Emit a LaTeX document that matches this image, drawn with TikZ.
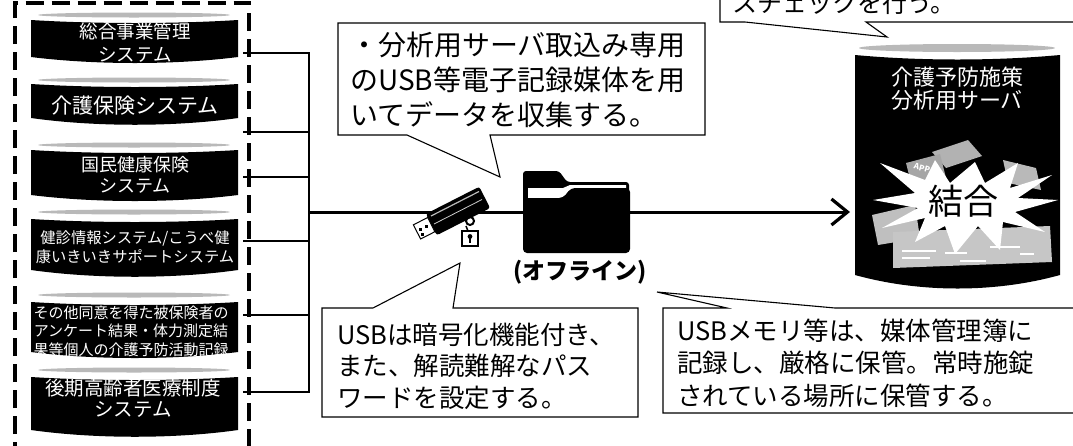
\documentclass[tikz,border=0pt]{standalone}
\usepackage{fontspec}
\setmainfont{Noto Sans CJK JP}
\usetikzlibrary{arrows.meta}

% database barrel: top ellipse y, body top y, body bottom y, bottom bulge
\newcommand\dbbarrel[4]{%
  \fill[gray!55] (134,#1) ellipse [x radius=96, y radius=2.5];
  \fill[black] (31,#2) .. controls (95,#2+4) and (175,#2+4) .. (238,#2)
    -- (238,#3) .. controls (175,#3+#4) and (95,#3+#4) .. (31,#3) -- cycle;
}

\begin{document}
\begin{tikzpicture}[x=1pt,y=-1pt,
  cyltext/.style={text=white, align=center, inner sep=0pt},
  balloon/.style={draw=black, fill=white, line width=1.1pt, line join=miter},
  btext/.style={align=left, inner sep=0pt, anchor=west},
  feed/.style={line width=2.3pt},
  trunk/.style={line width=2.6pt, line join=miter},
  dashedframe/.style={line width=4pt, dash pattern=on 18pt off 8pt},
]
\useasboundingbox (0,0) rectangle (1073,445);
\begin{scope}
\clip (0,0) rectangle (1073,445);

% ---------- source systems ----------
\draw[dashedframe] (15,460) -- (15,2.5) -- (249,2.5) -- (249,460);

\dbbarrel{15}{20}{57}{8}
\dbbarrel{80}{84}{118}{9}
\dbbarrel{145}{150}{195}{8}
\dbbarrel{212}{219}{270}{9}
\dbbarrel{295}{302}{352}{8}
\dbbarrel{370}{377}{430}{9}

\node[cyltext, font=\fontsize{18.5pt}{23pt}\selectfont] (sys1) at (135,43) {総合事業管理\\システム};
\node[cyltext, font=\fontsize{21pt}{24pt}\selectfont] (sys2) at (135,106) {介護保険システム};
\node[cyltext, font=\fontsize{18pt}{20.5pt}\selectfont] (sys3) at (135,175) {国民健康保険\\システム};
\node[cyltext, font=\fontsize{15.3pt}{19pt}\selectfont] (sys4) at (135,247) {健診情報システム/こうべ健\\康いきいきサポートシステム};
\node[cyltext, font=\fontsize{15pt}{18.5pt}\selectfont] (sys5) at (131,331) {その他同意を得た被保険者の\\アンケート結果・体力測定結\\果等個人の介護予防活動記録};
\node[cyltext, font=\fontsize{19.5pt}{21pt}\selectfont] (sys6) at (133,398) {後期高齢者医療制度\\システム};

% ---------- collecting lines ----------
\foreach \y/\n in {53/1,132/2,177/3,241/4,315/5,392/6}{
  \coordinate (src\n) at (243,\y);
  \coordinate (bus\n) at (309,\y);
}
\coordinate (busMid) at (309,212);
\coordinate (srvIn) at (850,212);
\draw[trunk] (src1) -- (bus1) -- (bus6) -- (src6);
\foreach \n in {2,3,4,5}{ \draw[feed] (src\n) -- (bus\n); }
\draw[line width=3pt, -{Straight Barb[length=16pt, width=26pt, line width=3.2pt]}] (busMid) -- (srvIn);

% ---------- USB stick ----------
\fill[black, rounded corners=2.5pt] (425.9,213.9) -- (479.3,186.7) -- (490.1,208.1) -- (436.7,235.3) -- cycle;
\draw[gray!55, line width=1.2pt] (431,216) -- (479,191.5);
\draw[gray!40, line width=0.8pt] (434,224) -- (482,199.5);
\filldraw[fill=white, draw=black, line width=1pt] (427.7,217.5) -- (413.4,224.8) -- (420.6,239.0) -- (434.9,231.7) -- cycle;
\fill[black] (418.5,227.5) rectangle (421.5,230.5);
\fill[black] (424.5,224.5) rectangle (427.5,227.5);
\fill[black] (421,233) rectangle (423.5,235.5);
\draw[black, line width=2pt] (470,221) circle (4);
\draw[black, line width=1.5pt] (466,226) -- (468,231);
\filldraw[fill=white, draw=black, line width=1.2pt] (462,231) rectangle (478,246);
\fill[black] (470,236.5) circle (2.4);
\fill[black] (468.8,236) rectangle (471.2,243);

% ---------- offline folder ----------
\fill[black, rounded corners=3pt] (523,240) -- (523,171) -- (559,171) -- (567,182) -- (629,182) -- (629,240) -- cycle;
\fill[white] (528,188) -- (563,188) -- (570,185) -- (626,185) -- (626,230) -- (528,230) -- cycle;
\fill[black, rounded corners=4pt] (523,253) -- (523,198) -- (563,198) -- (571,188) -- (630,188) -- (630,253) -- cycle;
\node[font=\bfseries\fontsize{23pt}{26pt}\selectfont, inner sep=0pt] (offline) at (580,272) {(オフライン)};

% ---------- analysis server ----------
\fill[gray!55] (957,48) ellipse [x radius=98, y radius=4];
\fill[black] (855,55) .. controls (920,61) and (995,61) .. (1060,55)
  -- (1060,275) .. controls (995,293) and (920,293) .. (855,275) -- cycle;
\node[cyltext, font=\fontsize{22pt}{23pt}\selectfont] (srv) at (957,89) {介護予防施策\\分析用サーバ};
\fill[gray!60] (932,152) -- (968,140) -- (982,156) -- (946,168) -- cycle;
\fill[gray!55] (1003,160) -- (1036,168) -- (1041,190) -- (1008,183) -- cycle;
\fill[gray!70] (906,163) -- (940,154) -- (946,178) -- (912,187) -- cycle;
\node[text=white, font=\bfseries\fontsize{8pt}{9pt}\selectfont, rotate=-15, inner sep=0pt] (app) at (922,168) {APP};
\fill[gray!50] (872,215) -- (915,205) -- (920,238) -- (878,245) -- cycle;
\fill[gray!45] (893,232) -- (1050,226) -- (1052,262) -- (893,268) -- cycle;
\foreach \xa/\ya/\w in {902/250/34,902/257/28,945/252/22,990/246/30,1020/253/14,960/260/26}{
  \fill[white] (\xa,\ya) rectangle ++(\w,1.6);
}
\fill[white] (873,200) -- (915,193) -- (880,163) -- (925,180) -- (935,160) -- (950,183)
  -- (975,162) -- (985,183) -- (1018,163) -- (1010,188) -- (1052,175) -- (1018,198)
  -- (1058,200) -- (1015,212) -- (1045,232) -- (1003,222) -- (1000,250) -- (978,226)
  -- (955,254) -- (945,226) -- (915,242) -- (925,218) -- (882,228) -- (918,208) -- cycle;
\node[font=\fontsize{35pt}{38pt}\selectfont, inner sep=0pt] (merge) at (963,201) {結合};

% ---------- balloons ----------
\path[balloon] (338,23) -- (705,23) -- (705,135) -- (490,135) -- (500,177) -- (407,135) -- (338,135) -- cycle;
\node[btext, font=\fontsize{28pt}{35pt}\selectfont] (note1) at (350,80) {・分析用サーバ取込み専用\\のUSB等電子記録媒体を用\\いてデータを収集する。};

\path[balloon] (322,308) -- (373,308) -- (460,263) -- (453,308) -- (638,308) -- (638,417) -- (322,417) -- cycle;
\node[btext, font=\fontsize{25.5pt}{31.5pt}\selectfont] (note2) at (337,366) {USBは暗号化機能付き、\\また、解読難解なパス\\ワードを設定する。};

\path[balloon] (663,308) -- (727,308) -- (657,292) -- (835,308) -- (1085,308) -- (1085,413) -- (663,413) -- cycle;
\node[btext, font=\fontsize{25.5pt}{32.5pt}\selectfont] (note3) at (677,363) {USBメモリ等は、媒体管理簿に\\記録し、厳格に保管。常時施錠\\されている場所に保管する。};

\path[balloon] (720,-20) -- (720,22) -- (745,22) -- (887,37) -- (866,22) -- (1085,22) -- (1085,-20) -- cycle;
\node[anchor=base west, inner sep=0pt, font=\fontsize{25pt}{30pt}\selectfont] (note4) at (732,12) {スチェックを行う。};

\end{scope}
\end{tikzpicture}
\end{document}
